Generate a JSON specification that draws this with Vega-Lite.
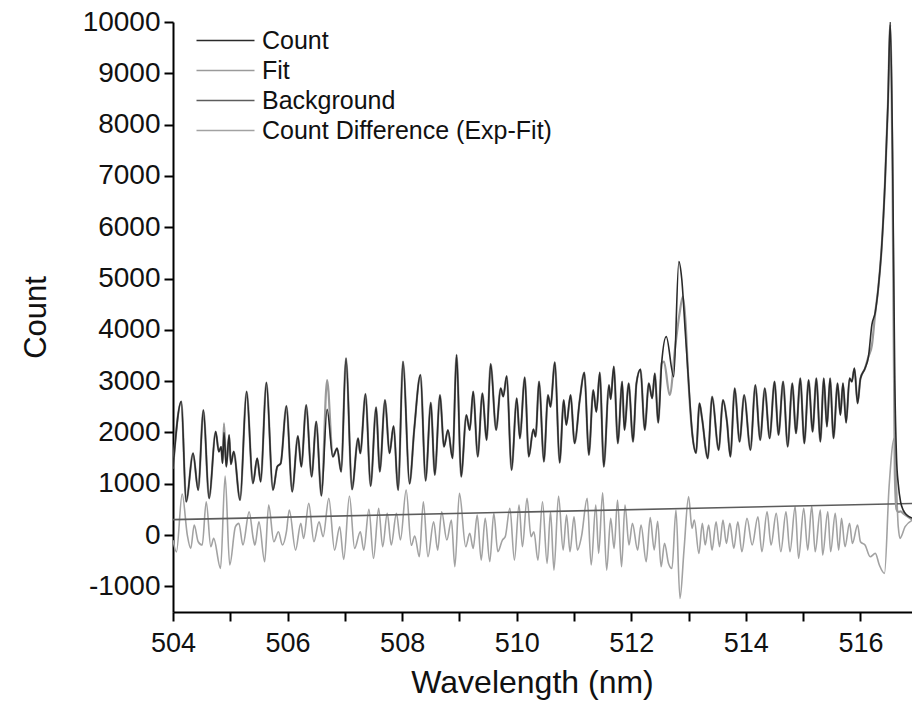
{
 "$schema": "https://vega.github.io/schema/vega-lite/v6.json",
 "width": 739,
 "height": 590,
 "autosize": {"type": "none"},
 "padding": {"left": 173, "top": 22, "right": 0, "bottom": 90},
 "background": "white",
 "config": {"view": {"stroke": null}, "font": "Liberation Sans"},
 "datasets": {
  "count": [[504.00,1300],[504.145,2600],[504.23,650],[504.35,1593],[504.44,877],[504.53,2437],[504.63,715],[504.745,2015],[504.80,1625],[504.84,1720],[504.865,1400],[504.89,2000],[504.93,1332],[504.98,1950],[505.01,1380],[505.06,1625],[505.17,683],[505.285,2795],[505.395,1007],[505.47,1495],[505.53,1040],[505.63,2970],[505.745,877],[505.82,1332],[505.88,1397],[505.98,2516],[506.08,845],[506.18,1930],[506.24,1332],[506.325,2535],[506.42,1137],[506.50,2210],[506.59,767],[506.69,2450],[506.79,1527],[506.865,1690],[506.935,1235],[507.02,3445],[507.125,890],[507.23,1885],[507.27,1593],[507.36,2750],[507.45,955],[507.545,2490],[507.61,1235],[507.70,2632],[507.78,1593],[507.85,2125],[507.93,877],[508.015,3380],[508.13,1000],[508.21,2047],[508.32,3120],[508.41,1060],[508.50,2580],[508.57,1170],[508.66,2730],[508.73,1722],[508.80,2047],[508.88,1495],[508.95,3510],[509.03,1137],[509.12,2340],[509.18,2047],[509.24,2795],[509.32,1527],[509.40,2762],[509.475,1852],[509.545,3335],[509.64,2047],[509.72,2860],[509.765,2700],[509.825,3100],[509.91,1267],[510.0,2665],[510.055,1885],[510.14,3075],[510.21,1527],[510.29,2060],[510.33,1918],[510.39,2990],[510.475,1430],[510.545,2730],[510.59,2500],[510.665,3367],[510.75,1410],[510.82,2632],[510.865,2145],[510.94,2730],[511.01,1788],[511.10,2632],[511.18,3165],[511.26,1560],[511.335,2827],[511.39,2400],[511.45,3165],[511.52,1332],[511.61,2925],[511.64,2650],[511.695,3282],[511.765,1788],[511.84,2990],[511.88,2047],[511.955,2957],[512.03,1820],[512.09,2957],[512.16,3230],[512.235,2047],[512.305,2957],[512.365,2665],[512.41,3150],[512.47,2190],[512.53,3350],[512.61,3867],[512.74,3087],[512.83,5330],[512.88,5000],[512.94,4000],[512.99,3160],[513.07,1917],[513.13,1600],[513.19,2567],[513.235,2275],[513.335,1495],[513.41,2697],[513.525,1657],[513.60,2632],[513.67,2210],[513.73,1527],[513.805,2860],[513.89,1820],[513.97,2730],[514.08,1657],[514.165,2925],[514.25,1852],[514.33,2860],[514.415,1885],[514.50,2990],[514.57,1950],[514.65,2990],[514.73,1722],[514.81,2957],[514.875,1982],[514.95,3055],[515.02,1787],[515.095,3022],[515.165,2015],[515.23,3055],[515.30,1820],[515.36,3055],[515.415,2112],[515.47,3055],[515.53,1885],[515.60,2957],[515.65,2340],[515.695,2957],[515.75,2190],[515.81,3055],[515.85,2990],[515.895,3250],[515.95,2567],[516.0,3050],[516.08,3250],[516.14,3480],[516.20,4100],[516.26,4350],[516.31,4800],[516.37,5600],[516.43,6900],[516.48,8400],[516.52,10000],[516.56,7500],[516.60,3000],[516.63,1500],[516.66,1000],[516.70,650],[516.75,480],[516.80,400],[516.90,330]],
  "fit": [[504.00,1300],[504.145,2600],[504.23,650],[504.35,1593],[504.44,877],[504.53,2437],[504.63,715],[504.745,2015],[504.80,1625],[504.84,1720],[504.865,1400],[504.89,2178],[504.93,1332],[504.98,1950],[505.01,1380],[505.06,1625],[505.17,683],[505.285,2795],[505.395,1007],[505.47,1495],[505.53,1040],[505.63,2970],[505.745,877],[505.82,1332],[505.88,1397],[505.98,2516],[506.08,845],[506.18,1930],[506.24,1332],[506.325,2535],[506.42,1137],[506.50,2210],[506.59,767],[506.69,3022],[506.79,1527],[506.865,1690],[506.935,1235],[507.02,3445],[507.125,890],[507.23,1885],[507.27,1593],[507.36,2750],[507.45,955],[507.545,2490],[507.61,1235],[507.70,2632],[507.78,1593],[507.85,2125],[507.93,877],[508.015,3380],[508.13,1000],[508.21,2047],[508.32,3120],[508.41,1060],[508.50,2580],[508.57,1170],[508.66,2730],[508.73,1722],[508.80,2047],[508.88,1495],[508.95,3510],[509.03,1137],[509.12,2340],[509.18,2047],[509.24,2795],[509.32,1527],[509.40,2762],[509.475,1852],[509.545,3335],[509.64,2047],[509.72,2860],[509.765,2700],[509.825,3100],[509.91,1267],[510.0,2665],[510.055,1885],[510.14,3075],[510.21,1527],[510.29,2060],[510.33,1918],[510.39,2990],[510.475,1430],[510.545,2730],[510.59,2500],[510.665,3367],[510.75,1410],[510.82,2632],[510.865,2145],[510.94,2730],[511.01,1788],[511.10,2632],[511.18,3165],[511.26,1560],[511.335,2827],[511.39,2400],[511.45,3165],[511.52,1332],[511.61,2925],[511.64,2650],[511.695,3282],[511.765,1788],[511.84,2990],[511.88,2047],[511.955,2957],[512.03,1820],[512.09,2957],[512.16,3230],[512.235,2047],[512.305,2957],[512.365,2665],[512.41,3150],[512.47,2190],[512.53,3350],[512.57,3380],[512.67,2730],[512.77,3700],[512.84,4300],[512.90,4650],[512.95,4100],[512.99,3160],[513.07,1917],[513.13,1600],[513.19,2567],[513.235,2275],[513.335,1495],[513.41,2697],[513.525,1657],[513.60,2632],[513.67,2210],[513.73,1527],[513.805,2860],[513.89,1820],[513.97,2730],[514.08,1657],[514.165,2925],[514.25,1852],[514.33,2860],[514.415,1885],[514.50,2990],[514.57,1950],[514.65,2990],[514.73,1722],[514.81,2957],[514.875,1982],[514.95,3055],[515.02,1787],[515.095,3022],[515.165,2015],[515.23,3055],[515.30,1820],[515.36,3055],[515.415,2112],[515.47,3055],[515.53,1885],[515.60,2957],[515.65,2340],[515.695,2957],[515.75,2190],[515.81,3055],[515.85,2990],[515.895,3250],[515.95,2567],[516.0,3050],[516.08,3250],[516.14,3480],[516.20,3700],[516.26,4350],[516.31,4800],[516.37,5600],[516.43,6900],[516.48,8400],[516.52,9950],[516.56,7000],[516.60,1200],[516.63,500],[516.66,450],[516.70,460],[516.75,420],[516.80,380],[516.90,300]],
  "diff": [[504.0,-100],[504.06,-330],[504.16,800],[504.25,0],[504.31,-260],[504.37,195],[504.44,-130],[504.51,-195],[504.58,650],[504.66,-228],[504.71,-65],[504.83,-650],[504.91,1150],[504.99,-585],[505.09,163],[505.15,228],[505.22,-195],[505.33,455],[505.40,-65],[505.43,-195],[505.50,260],[505.60,-520],[505.67,585],[505.76,-130],[505.84,65],[505.91,-195],[505.98,65],[506.03,488],[506.14,-293],[506.23,228],[506.28,-65],[506.37,618],[506.46,-130],[506.55,260],[506.62,-32],[506.72,715],[506.82,-293],[506.91,163],[506.98,-475],[507.08,760],[507.17,-260],[507.27,65],[507.33,-293],[507.42,500],[507.50,-455],[507.59,520],[507.66,-228],[507.74,423],[507.81,-195],[507.90,423],[507.97,-98],[508.07,878],[508.16,-200],[508.22,-20],[508.30,-423],[508.37,650],[508.45,-423],[508.55,260],[508.62,-293],[508.69,455],[508.78,-98],[508.86,292],[508.92,-618],[509.0,813],[509.11,-228],[509.18,33],[509.24,-260],[509.31,390],[509.38,-488],[509.45,325],[509.53,-520],[509.60,423],[509.67,-325],[509.75,-98],[509.80,-32],[509.88,520],[509.96,-488],[510.04,585],[510.10,-228],[510.18,715],[510.25,-32],[510.30,65],[510.37,-488],[510.45,650],[510.53,-553],[510.59,455],[510.65,-683],[510.73,760],[510.81,-293],[510.87,390],[510.93,-325],[511.0,358],[511.06,-293],[511.13,-32],[511.23,715],[511.30,-585],[511.38,585],[511.43,-358],[511.50,825],[511.57,-683],[511.64,325],[511.70,-260],[511.76,683],[511.83,-618],[511.89,585],[511.96,-195],[512.02,228],[512.11,-293],[512.17,195],[512.26,-520],[512.33,340],[512.40,-290],[512.46,270],[512.52,-618],[512.58,-163],[512.65,-553],[512.71,-650],[512.78,488],[512.85,-1235],[512.92,-293],[513.0,748],[513.06,130],[513.10,293],[513.18,-358],[513.24,228],[513.29,-195],[513.35,195],[513.41,-293],[513.48,260],[513.54,-228],[513.60,293],[513.66,-163],[513.72,228],[513.79,-260],[513.86,260],[513.93,-325],[514.02,325],[514.11,-195],[514.21,358],[514.28,-325],[514.37,455],[514.44,-195],[514.53,423],[514.61,-325],[514.70,455],[514.77,-325],[514.86,553],[514.92,-455],[515.01,520],[515.08,-293],[515.15,566],[515.21,-325],[515.30,488],[515.34,-390],[515.43,455],[515.48,-325],[515.56,423],[515.62,-293],[515.67,325],[515.73,-228],[515.81,228],[515.86,-163],[515.95,195],[516.0,-130],[516.08,-195],[516.17,-423],[516.26,-358],[516.33,-585],[516.42,-747],[516.50,942],[516.59,1885],[516.66,163],[516.69,-65],[516.78,163],[516.91,293]],
  "bg": [[504.0,300],[516.9,615]]
 },
 "encoding": {
  "x": {"field": "x", "type": "quantitative",
   "scale": {"domain": [504, 516.9], "nice": false, "zero": false},
   "axis": {"values": [504,505,506,507,508,509,510,511,512,513,514,515,516],
    "labelExpr": "datum.value % 2 == 0 ? datum.label : ''",
    "grid": false, "domainColor": "#000", "domainWidth": 2, "tickColor": "#000", "tickWidth": 2, "tickSize": 9,
    "labelFontSize": 27, "labelColor": "#111", "labelPadding": 9, "labelFlush": false, "labelOverlap": false,
    "title": "Wavelength (nm)", "titleFontSize": 32, "titleFontWeight": "normal", "titleColor": "#111", "titlePadding": 11, "titleX": 359, "titleAlign": "center"}},
  "y": {"field": "y", "type": "quantitative",
   "scale": {"domain": [-1500, 10000], "nice": false, "zero": false},
   "axis": {"values": [-1000,0,1000,2000,3000,4000,5000,6000,7000,8000,9000,10000],
    "labelExpr": "'' + datum.value",
    "grid": false, "domainColor": "#000", "domainWidth": 2, "tickColor": "#000", "tickWidth": 2, "tickSize": 9,
    "labelFontSize": 28, "labelColor": "#111", "labelPadding": 4, "labelFlush": false, "labelOverlap": false,
    "title": "Count", "titleFontSize": 31, "titleFontWeight": "normal", "titleColor": "#111", "titlePadding": 30}},
  "color": {"field": "s", "type": "nominal",
   "scale": {"domain": ["Count", "Fit", "Background", "Count Difference (Exp-Fit)"], "range": ["#2a2a2a", "#9a9a9a", "#5c5c5c", "#a2a2a2"]},
   "legend": {"orient": "none", "legendX": 37, "legendY": 3, "title": null, "symbolType": "M-2,0L2,0", "symbolSize": 841, "symbolStrokeWidth": 1.6,
    "labelFontSize": 25, "labelColor": "#111", "labelOffset": 21, "labelLimit": 0, "rowPadding": 1}}
 },
 "layer": [
  {"data": {"name": "diff"}, "transform": [{"calculate": "datum[0]", "as": "x"}, {"calculate": "datum[1]", "as": "y"}, {"calculate": "'Count Difference (Exp-Fit)'", "as": "s"}],
   "mark": {"type": "line", "strokeWidth": 1.6, "clip": true, "interpolate": "monotone"}},
  {"data": {"name": "bg"}, "transform": [{"calculate": "datum[0]", "as": "x"}, {"calculate": "datum[1]", "as": "y"}, {"calculate": "'Background'", "as": "s"}],
   "mark": {"type": "line", "strokeWidth": 1.6, "clip": true}},
  {"data": {"name": "fit"}, "transform": [{"calculate": "datum[0]", "as": "x"}, {"calculate": "datum[1]", "as": "y"}, {"calculate": "'Fit'", "as": "s"}],
   "mark": {"type": "line", "strokeWidth": 2.2, "clip": true, "interpolate": "monotone"}},
  {"data": {"name": "count"}, "transform": [{"calculate": "datum[0]", "as": "x"}, {"calculate": "datum[1]", "as": "y"}, {"calculate": "'Count'", "as": "s"}],
   "mark": {"type": "line", "strokeWidth": 1.6, "clip": true, "interpolate": "monotone"}}
 ]
}
